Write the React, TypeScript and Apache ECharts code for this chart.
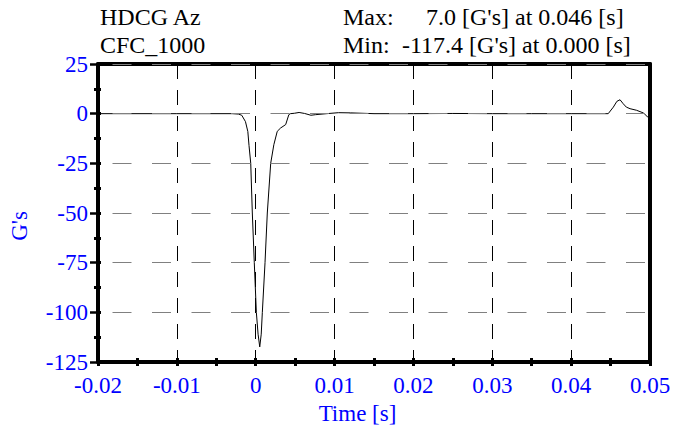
import React, { useEffect, useRef } from "react";
import * as echarts from "echarts";

const FONT = "Liberation Serif";

// Time (s) and acceleration (G's)
const timeS = [
  -0.02, -0.01, -0.003, -0.0022, -0.00177, -0.0013, -0.001, -0.00085, -0.00063, -0.00043,
  -0.00018, 0.00008, 0.0003, 0.00051, 0.0007, 0.00084, 0.00118, 0.00147, 0.0019, 0.0023,
  0.00273, 0.00316, 0.0038, 0.0042, 0.0044, 0.0049, 0.0055, 0.0062, 0.007, 0.0076,
  0.009, 0.0105, 0.012, 0.015, 0.02, 0.025, 0.03, 0.035, 0.04, 0.0447,
  0.04535, 0.0458, 0.0462, 0.0466, 0.047, 0.04747, 0.0483, 0.0492, 0.0497, 0.05,
];
const accelG = [
  0, 0, 0, -0.2, -0.8, -4, -9, -16, -25, -50,
  -75, -100, -111, -117.4, -111, -100, -75, -50, -25, -15.6,
  -8.9, -7.2, -5.5, -0.5, 0, 0.2, 0.6, 0.1, -0.8, -0.5,
  0, 0.5, 0.4, 0, 0, 0.1, 0, 0, 0, 0,
  3.3, 6.2, 7.0, 5.0, 3.3, 2.5, 1.7, 0.3, -1.7, -1.8,
];

const xRange = { min: -0.02, max: 0.05, interval: 0.01 };
const yRange = { min: -125, max: 25, interval: 25 };

const titleLeft = ["HDCG Az", "CFC_1000"];
const statLabels = ["Max:", "Min:"];
const statValues = ["7.0 [G's] at 0.046 [s]", "-117.4 [G's] at 0.000 [s]"];

const BLUE = "#0000ff";

export default function App() {
  const ref = useRef<HTMLDivElement>(null);
  useEffect(() => {
    const chart = echarts.init(ref.current!, null, { renderer: "svg" });
    const data = timeS.map((t, i) => [t, accelG[i]]);
    const xFmt = (v: number) => {
      const r = Math.round(v * 100) / 100;
      return r === 0 ? "0" : r.toFixed(2);
    };
    const tickStyle = { color: "#000", width: 3 };
    const frameLine = { show: true, onZero: false, lineStyle: { color: "#000", width: 4 } };
    const bare = {
      type: "value",
      axisTick: { show: false },
      minorTick: { show: false },
      axisLabel: { show: false },
      splitLine: { show: false },
    };
    chart.setOption({
      animation: false,
      backgroundColor: "#fff",
      textStyle: { fontFamily: FONT },
      grid: { left: 98, right: 24, top: 64, bottom: 73 },
      xAxis: [
        {
          type: "value",
          ...xRange,
          position: "bottom",
          axisLine: frameLine,
          axisTick: { show: true, inside: false, length: 4, lineStyle: tickStyle },
          minorTick: { show: true, splitNumber: 2, length: 4, lineStyle: tickStyle },
          axisLabel: { color: BLUE, fontSize: 23, fontFamily: FONT, margin: 12, formatter: xFmt },
          splitLine: { show: true, lineStyle: { color: "#000", width: 1, type: [15, 11] } },
          name: "Time [s]",
          nameLocation: "middle",
          nameGap: 40,
          nameTextStyle: { color: BLUE, fontSize: 23, fontFamily: FONT, padding: [0, 33, 0, 0] },
          z: 10,
        },
        {
          type: "value",
          ...xRange,
          position: "bottom",
          axisLine: { show: false, onZero: false },
          axisTick: { show: true, inside: true, length: 4, lineStyle: tickStyle },
          minorTick: { show: true, splitNumber: 2, length: 4, lineStyle: tickStyle },
          axisLabel: { show: false },
          splitLine: { show: false },
        },
        { ...bare, ...xRange, position: "top", axisLine: frameLine },
      ],
      yAxis: [
        {
          type: "value",
          ...yRange,
          position: "left",
          axisLine: frameLine,
          axisTick: { show: true, inside: false, length: 8, lineStyle: { color: "#000", width: 2.5 } },
          minorTick: { show: true, splitNumber: 2, length: 4, lineStyle: tickStyle },
          axisLabel: { color: BLUE, fontSize: 23, fontFamily: FONT, margin: 10 },
          splitLine: {
            show: true,
            lineStyle: { color: "#808080", width: 1, type: [19, 20.5], dashOffset: 24.5 },
          },
          name: "G's",
          nameLocation: "middle",
          nameGap: 67,
          nameTextStyle: { color: BLUE, fontSize: 23, fontFamily: FONT, padding: [0, 26, 0, 0] },
          z: 10,
        },
        {
          type: "value",
          ...yRange,
          position: "left",
          axisLine: { show: false, onZero: false },
          axisTick: { show: true, inside: true, length: 3, lineStyle: tickStyle },
          minorTick: { show: true, splitNumber: 2, length: 3, lineStyle: tickStyle },
          axisLabel: { show: false },
          splitLine: { show: false },
        },
        { ...bare, ...yRange, position: "right", axisLine: frameLine },
      ],
      series: [
        {
          type: "line",
          xAxisIndex: 0,
          yAxisIndex: 0,
          data,
          showSymbol: false,
          symbol: "none",
          smooth: false,
          lineStyle: { color: "#000", width: 1 },
          z: 5,
        },
      ],
      graphic: [
        ...titleLeft.map((t, i) => ({
          type: "text",
          x: 100,
          y: 17 + i * 28,
          style: { text: t, fontSize: 24, fontFamily: FONT, fill: "#000", verticalAlign: "middle" },
        })),
        ...statLabels.map((t, i) => ({
          type: "text",
          x: 343,
          y: 17 + i * 28,
          style: { text: t, fontSize: 24, fontFamily: FONT, fill: "#000", verticalAlign: "middle" },
        })),
        ...statValues.map((t, i) => ({
          type: "text",
          x: i === 0 ? 426 : 402,
          y: 17 + i * 28,
          style: { text: t, fontSize: 24, fontFamily: FONT, fill: "#000", verticalAlign: "middle" },
        })),
      ],
    });
    return () => chart.dispose();
  }, []);
  return (
    <div
      ref={ref}
      style={{ position: "fixed", left: 0, top: 0, width: 674, height: 435, background: "#fff" }}
    />
  );
}
